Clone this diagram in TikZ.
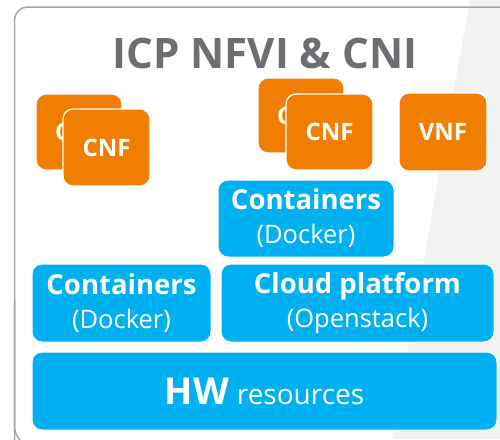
\documentclass[tikz,border=0pt]{standalone}
\usepackage{fontspec}
\setmainfont{Open Sans}
\definecolor{cnforange}{HTML}{F07E00}
\definecolor{layerblue}{HTML}{00B0F0}
\definecolor{titlegrey}{HTML}{6D6E71}
\definecolor{framegrey}{HTML}{A6A6A6}
\definecolor{bggrey}{HTML}{F2F2F2}
\tikzset{
  fnbox/.style={fill=cnforange, draw=white, line width=1.2pt, rounded corners=10pt,
    inner sep=0pt, text=white, font=\fontsize{24}{28}\selectfont\bfseries},
  layer/.style={fill=layerblue, draw=white, line width=1pt, rounded corners=10pt,
    inner sep=0pt, text=white, align=center, font=\fontsize{25}{34}\selectfont},
}
\newcommand{\headtxt}[1]{{\fontsize{27.5}{34}\selectfont\bfseries #1}}
\newcommand{\subtxt}[1]{{\fontsize{25.5}{34}\selectfont #1}}
\begin{document}
\begin{tikzpicture}[x=1pt,y=-1pt]
\useasboundingbox (0,0) rectangle (500,439);
\clip (0,0) rectangle (500,439);
\fill[white] (0,0) rectangle (500,439);
\fill[bggrey] (470,0) -- (500,0) -- (500,439) -- (392,439) -- cycle;
\draw[framegrey, line width=1.5pt, rounded corners=13pt] (14.5,460) -- (14.5,7) -- (530,7);
\draw[framegrey, line width=1.5pt, rounded corners=13pt] (14.5,300) -- (14.5,439.5) -- (40,452);
\node[text=titlegrey, font=\fontsize{42}{48}\selectfont\bfseries, anchor=base] (title) at (265,68) {ICP NFVI \& CNI};
% left CNF pair
\node[fnbox, minimum width=86pt, minimum height=76pt] (cnfLback) at (79,132) {CNF};
\node[fnbox, minimum width=87pt, minimum height=77pt] (cnfLfront) at (106.5,147.5) {CNF};
% right CNF pair
\node[fnbox, minimum width=86pt, minimum height=75pt] (cnfRback) at (301,115.5) {CNF};
\node[fnbox, minimum width=87pt, minimum height=76pt] (cnfRfront) at (329.5,132) {CNF};
\node[fnbox, minimum width=88pt, minimum height=78pt] (vnf) at (443,132) {VNF};
% layers
\node[layer, minimum width=176pt, minimum height=77pt] (contTop) at (306,218.5)
  {\headtxt{Containers}\\\subtxt{(Docker)}};
\node[layer, minimum width=179pt, minimum height=78pt] (contBot) at (121.5,303)
  {\headtxt{Containers}\\\subtxt{(Docker)}};
\node[layer, minimum width=273pt, minimum height=78pt] (cloud) at (357.5,303)
  {\headtxt{Cloud platform}\\\subtxt{(Openstack)}};
\node[layer, minimum width=465pt, minimum height=78pt] (hw) at (264.5,391)
  {{\fontsize{37}{44}\selectfont\bfseries HW}\hspace{8pt}{\fontsize{28}{34}\selectfont resources}};
\end{tikzpicture}
\end{document}
